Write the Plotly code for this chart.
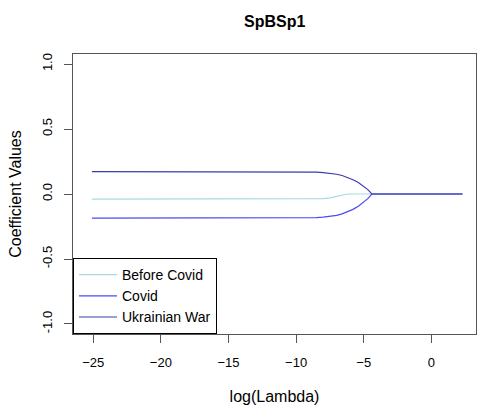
import plotly.graph_objects as go

# log(lambda) grid of the coefficient path
log_lambda = [-25.1, -20, -15, -12, -10, -9, -8.5, -8, -7.5, -7, -6.6, -6.2,
              -5.8, -5.4, -5.0, -4.7, -4.4, -4, -2, 0, 2.3]

before_covid = [-0.04, -0.04, -0.04, -0.04, -0.04, -0.04, -0.039, -0.036, -0.03,
                -0.018, -0.004, 0, 0, 0, 0, 0, 0, 0, 0, 0, 0]
covid = [-0.185, -0.185, -0.185, -0.185, -0.184, -0.183, -0.181, -0.178, -0.172,
         -0.164, -0.153, -0.138, -0.118, -0.094, -0.064, -0.036, 0, 0, 0, 0, 0]
ukrainian_war = [0.172, 0.172, 0.172, 0.172, 0.171, 0.170, 0.168, 0.165, 0.160,
                 0.152, 0.142, 0.128, 0.110, 0.088, 0.060, 0.034, 0, 0, 0, 0, 0]

series = [("Before Covid", before_covid, "#a8d8e8"),
          ("Covid", covid, "#4b4bf0"),
          ("Ukrainian War", ukrainian_war, "#3c3caa")]

font = "Liberation Sans, Arial, sans-serif"

fig = go.Figure()
for name, vals, col in series:
    fig.add_scatter(x=log_lambda, y=vals, mode="lines", name=name,
                    line=dict(color=col, width=1.2))

fig.update_layout(
    width=477, height=406,
    margin=dict(l=73, r=1, t=54, b=72, autoexpand=False),
    paper_bgcolor="white", plot_bgcolor="white",
    font=dict(family=font, size=13, color="black"),
    title=dict(text="<b>SpBSp1</b>", x=0.576, xanchor="center", y=0.948, yanchor="middle",
               font=dict(size=16)),
    legend=dict(x=0, y=0, xanchor="left", yanchor="bottom", bordercolor="black",
                borderwidth=1, bgcolor="white", font=dict(size=14),
                itemwidth=38, tracegroupgap=0),
    showlegend=True,
)
fig.update_xaxes(range=[-26.5, 3.3], tickvals=[-25, -20, -15, -10, -5, 0],
                 ticks="outside", ticklen=8, tickcolor="#555", showgrid=False,
                 zeroline=False, showline=True, linecolor="#555", mirror=True,
                 ticklabelstandoff=8, automargin=False,
                 title=dict(text="log(Lambda)", standoff=22))
fig.update_yaxes(range=[-1.077, 1.077], tickvals=[-1, -0.5, 0, 0.5, 1],
                 ticktext=["-1.0", "-0.5", "0.0", "0.5", "1.0"], tickangle=-90,
                 ticks="outside", ticklen=8, tickcolor="#555", showgrid=False,
                 zeroline=False, showline=True, linecolor="#555", mirror=True,
                 ticklabelstandoff=7, automargin=False,
                 title=dict(text="Coefficient Values", standoff=14))

# the page body has a default 8px margin; drop it so the figure sits at the corner
fig.write_html("out.html", config={"displayModeBar": False},
               post_script="document.body.style.margin='0';")
